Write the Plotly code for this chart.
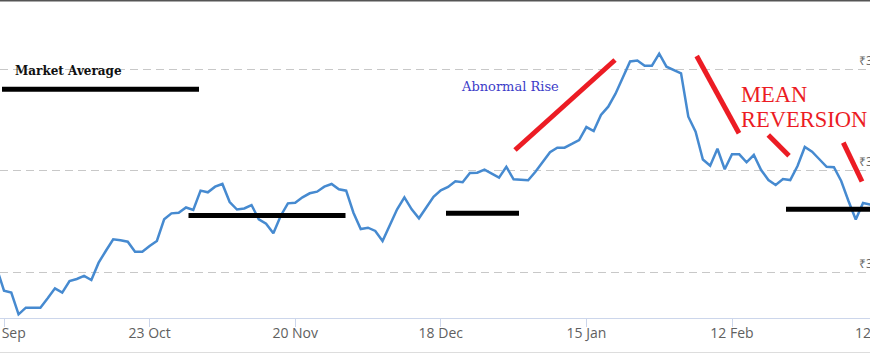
import plotly.graph_objects as go

# ---------------- data ----------------
day_index = list(range(-1, 120))  # trading-day index (0 = 25 Sep)
price = [
    300.40,
    298.16, 297.97, 295.83, 296.49, 296.49, 296.49, 297.41, 298.40, 297.97, 299.12,
    299.32, 299.62, 299.22, 300.93, 302.11, 303.24, 303.14, 303.00, 302.01, 302.01,
    302.58, 303.07, 305.21, 305.80, 305.86, 306.38, 306.13, 308.04, 307.88, 308.43,
    308.70, 306.92, 306.18, 306.28, 306.62, 305.21, 304.78, 303.83, 305.54, 306.79,
    306.85, 307.38, 307.78, 307.94, 308.43, 308.70, 308.17, 308.04, 305.86, 304.25,
    304.38, 304.06, 303.07, 304.72, 306.20, 307.38, 306.20, 305.31, 306.43, 307.44,
    308.08, 308.40, 308.96, 308.87, 309.78, 309.81, 310.11, 309.68, 309.32, 310.40,
    309.16, 309.12, 309.06, 309.91, 310.90, 311.83, 312.28, 312.28, 312.65, 313.04,
    314.32, 313.93, 315.51, 316.33, 317.61, 319.13, 320.79, 320.89, 320.37, 320.37,
    321.56, 320.28, 319.95, 319.62, 315.34, 313.86, 311.12, 310.50, 312.18, 310.15,
    311.63, 311.63, 310.84, 311.56, 310.08, 309.09, 308.60, 309.19, 309.09, 310.47,
    312.35, 311.89, 311.14, 310.40, 310.35, 308.99, 307.02, 305.19, 306.82, 306.67,
]
tick_index = [0, 20, 40, 60, 80, 100, 120]
tick_text = ["25 Sep", "23 Oct", "20 Nov", "18 Dec", "15 Jan", "12 Feb", "12 Mar"]
grid_values = [300, 310, 320]
grid_labels = ["₹300", "₹310", "₹320"]

# ---------------- geometry helpers ----------------
W, H = 870, 354
PLOT_BOTTOM = 318
X0_PX, PX_PER_DAY = 4.0, 7.28
Y300_PX, PX_PER_UNIT = 272.1, 10.13
TICK_FONT = dict(family="Open Sans", size=14, color="#606060")


def px2x(px):
    return (px - X0_PX) / PX_PER_DAY


def py2y(py):
    return 300 + (Y300_PX - py) / PX_PER_UNIT


def px2paper(px):
    return px / W


def py2paper(py):
    return (PLOT_BOTTOM - py) / PLOT_BOTTOM


x_range = [px2x(0), px2x(W)]
y_range = [py2y(PLOT_BOTTOM), py2y(0)]

fig = go.Figure()
fig.add_trace(go.Scatter(
    x=day_index, y=price, mode="lines",
    line=dict(color="#468ad0", width=2.5),
    hoverinfo="skip", showlegend=False,
))

# ticks fully inside the plot get regular tick labels; edge ones are annotations
inner = [(i, t) for i, t in zip(tick_index, tick_text) if px2x(30) <= i <= px2x(W - 30)]
edge = [(i, t) for i, t in zip(tick_index, tick_text) if (i, t) not in inner]

fig.update_layout(
    width=W, height=H,
    margin=dict(l=0, r=0, t=0, b=H - PLOT_BOTTOM, pad=0),
    paper_bgcolor="white", plot_bgcolor="white",
    showlegend=False,
    xaxis=dict(
        range=x_range, showgrid=False, zeroline=False,
        showline=True, linecolor="#ccd6eb", linewidth=1,
        ticks="outside", ticklen=8, tickcolor="#ccd6eb", tickwidth=1,
        tickmode="array", tickvals=[i for i, _ in tick_index and inner] + [tick_index[0]],
        ticktext=[t for _, t in inner] + [""],
        tickfont=TICK_FONT, ticklabelstandoff=-6,
    ),
    yaxis=dict(
        range=y_range, showgrid=True, gridcolor="#c8c8c8", gridwidth=1,
        griddash="8px,5px", zeroline=False, showline=False,
        tickmode="array", tickvals=grid_values, showticklabels=False, ticks="",
    ),
)

for i, t in edge:
    fig.add_annotation(x=px2paper(X0_PX + PX_PER_DAY * i), xref="paper",
                       y=py2paper(332), yref="paper", text=t, showarrow=False,
                       xanchor="center", yanchor="middle", font=TICK_FONT)

# partially visible labels at the right edge
for v, lab in zip(grid_values, grid_labels):
    fig.add_annotation(x=px2paper(857), xref="paper", y=v, yref="y", yshift=9,
                       text=lab, showarrow=False, xanchor="left", yanchor="middle",
                       font=dict(family="Open Sans", size=12, color="#666666"))

# frame lines
fig.add_shape(type="line", xref="paper", yref="paper", x0=0, x1=1,
              y0=py2paper(0.5), y1=py2paper(0.5), line=dict(color="#555555", width=2))
fig.add_shape(type="line", xref="paper", yref="paper", x0=0, x1=1,
              y0=py2paper(352.5), y1=py2paper(352.5), line=dict(color="#dddddd", width=1))

# hand-drawn markers: black "average" bars and red trend strokes
black_bars = [((2, 89.3), (199, 89.3)), ((188.5, 215.5), (345.5, 215.5)),
              ((446, 213.3), (519, 213.3)), ((786, 209.3), (875, 209.3))]
for (ax0, ay0), (ax1, ay1) in black_bars:
    fig.add_shape(type="line", xref="x", yref="y", x0=px2x(ax0), y0=py2y(ay0),
                  x1=px2x(ax1), y1=py2y(ay1), line=dict(color="black", width=5))

red_strokes = [((515, 150), (615, 60)), ((696.7, 56), (739, 133.3)),
               ((768.3, 135), (789, 155.7)), ((843.3, 142.7), (862, 181.5))]
for (ax0, ay0), (ax1, ay1) in red_strokes:
    fig.add_shape(type="line", xref="x", yref="y", x0=px2x(ax0), y0=py2y(ay0),
                  x1=px2x(ax1), y1=py2y(ay1), line=dict(color="#ec1c24", width=5))

# texts
fig.add_annotation(x=px2paper(13), xref="paper", y=py2paper(71), yref="paper",
                   text="<b>Market Average</b>", showarrow=False, xanchor="left", yanchor="middle",
                   font=dict(family="DejaVu Serif", size=12, color="#111111"))
fig.add_annotation(x=px2paper(459), xref="paper", y=py2paper(86), yref="paper",
                   text="Abnormal Rise", showarrow=False, xanchor="left", yanchor="middle",
                   font=dict(family="DejaVu Serif", size=13, color="#3c3cc8"))
fig.add_annotation(x=px2paper(739), xref="paper", y=py2paper(94.5), yref="paper",
                   text="MEAN", showarrow=False, xanchor="left", yanchor="middle",
                   font=dict(family="Liberation Serif", size=22.5, color="#ec1c24"))
fig.add_annotation(x=px2paper(739), xref="paper", y=py2paper(119.5), yref="paper",
                   text="REVERSION", showarrow=False, xanchor="left", yanchor="middle",
                   font=dict(family="Liberation Serif", size=22.5, color="#ec1c24"))

fig.write_html("out.html")
